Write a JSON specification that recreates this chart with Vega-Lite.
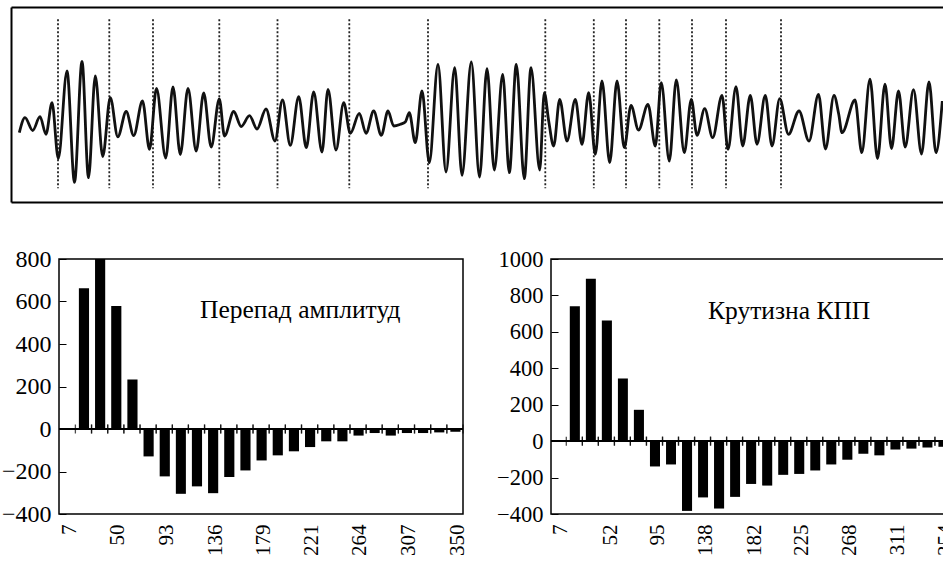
{
  "$schema": "https://vega.github.io/schema/vega-lite/v6.json",
  "background": "white",
  "padding": {"left": 0, "top": 6, "right": 0, "bottom": 0},
  "config": {
    "font": "Liberation Serif",
    "view": {"stroke": "#000", "strokeWidth": 1.5},
    "axis": {"grid": false, "labelFont": "Liberation Serif", "labelColor": "#000", "title": null, "labelOverlap": false, "labelSeparation": 0},
    "axisY": {"labelOverlap": false},
    "style": {"guide-label": {"font": "Liberation Serif"}}
  },
  "datasets": {
    "wave": [
      {"t":17.3,"a":131.7},{"t":23,"a":116.7},{"t":30.7,"a":129.5},{"t":38,"a":115.7},{"t":44,"a":133.3},
      {"t":50,"a":101.7},{"t":56.3,"a":157.5},{"t":65,"a":70},{"t":72.5,"a":181.3},{"t":80,"a":60.5},
      {"t":86.5,"a":176.7},{"t":93.3,"a":75},{"t":100.7,"a":155.5},{"t":108.3,"a":96.7},{"t":115.8,"a":135.8},
      {"t":124.2,"a":110.5},{"t":131.7,"a":134.6},{"t":140.5,"a":100},{"t":147.5,"a":148.3},{"t":154.5,"a":87.5},
      {"t":163.7,"a":157},{"t":171,"a":86},{"t":178.3,"a":153.5},{"t":186,"a":87.5},{"t":194.2,"a":150},
      {"t":201.7,"a":92},{"t":209.2,"a":146},{"t":217.3,"a":98},{"t":222.5,"a":135},{"t":231.7,"a":110.5},
      {"t":239.2,"a":125.5},{"t":247.5,"a":114.7},{"t":255,"a":128},{"t":264,"a":108},{"t":273,"a":140},
      {"t":280.5,"a":99},{"t":288.3,"a":144.3},{"t":296.7,"a":95.7},{"t":304.3,"a":146.7},{"t":311.7,"a":91},
      {"t":320,"a":151},{"t":326,"a":88.3},{"t":334,"a":149},{"t":341.7,"a":101.7},{"t":348.3,"a":132.3},
      {"t":357.3,"a":112.3},{"t":364,"a":132.3},{"t":371.7,"a":110},{"t":379.3,"a":134.3},{"t":386,"a":110},
      {"t":391.7,"a":125},{"t":398.3,"a":123.3},{"t":403.3,"a":121},{"t":407.3,"a":111.7},{"t":413.3,"a":141.7},
      {"t":420,"a":90},{"t":427.3,"a":161.7},{"t":436,"a":63.3},{"t":444,"a":171},{"t":452.7,"a":66.7},
      {"t":460,"a":174.3},{"t":469.3,"a":61},{"t":477.5,"a":176},{"t":485,"a":67.7},{"t":492.3,"a":169},
      {"t":500.7,"a":73.3},{"t":507.3,"a":171.7},{"t":514.3,"a":63.3},{"t":522.3,"a":177.7},{"t":529,"a":66.7},
      {"t":537.7,"a":169},{"t":542.3,"a":91.7},{"t":546.7,"a":120},{"t":551.7,"a":145},{"t":557.7,"a":98.3},
      {"t":565,"a":140},{"t":573.3,"a":98.3},{"t":580,"a":143.3},{"t":586.7,"a":91.7},{"t":593.3,"a":153.3},
      {"t":600,"a":80},{"t":607.7,"a":161.7},{"t":615,"a":80},{"t":622.3,"a":146.7},{"t":629,"a":104.3},
      {"t":636.5,"a":129},{"t":646,"a":103.3},{"t":653.3,"a":145},{"t":659.3,"a":81.7},{"t":667.3,"a":160},
      {"t":674.3,"a":79},{"t":682.3,"a":151.7},{"t":689.3,"a":98.3},{"t":695,"a":134.3},{"t":702.7,"a":107.7},
      {"t":710.7,"a":136.7},{"t":720,"a":94.3},{"t":726,"a":148.3},{"t":734,"a":85.7},{"t":740.7,"a":145},
      {"t":748.3,"a":94.3},{"t":755,"a":143.3},{"t":763.3,"a":94.3},{"t":770,"a":145},{"t":777.7,"a":97.7},
      {"t":786.5,"a":133.3},{"t":797,"a":110},{"t":807,"a":140},{"t":816.5,"a":93.3},{"t":823.5,"a":148},
      {"t":832,"a":94.5},{"t":836.7,"a":113},{"t":840,"a":131.7},{"t":853,"a":99},{"t":859.8,"a":151.7},
      {"t":868,"a":78.2},{"t":875.5,"a":157.5},{"t":883,"a":83.2},{"t":889.5,"a":147.5},{"t":896.5,"a":90},
      {"t":903.2,"a":146},{"t":911.5,"a":88.7},{"t":919.5,"a":153},{"t":927,"a":80.8},{"t":934,"a":151.7},
      {"t":940.3,"a":100}
    ],
    "marks": [
      {"t":56},{"t":107.3},{"t":151},{"t":217.3},{"t":275.5},{"t":347.3},{"t":426},
      {"t":543.3},{"t":591.8},{"t":624},{"t":657.3},{"t":690},{"t":724},{"t":779}
    ],
    "amp": [
      {"lo":7,"hi":21.3,"v":662},{"lo":21.3,"hi":35.6,"v":800},{"lo":35.6,"hi":49.9,"v":579},{"lo":49.9,"hi":64.2,"v":233},
      {"lo":64.2,"hi":78.5,"v":-129},{"lo":78.5,"hi":92.8,"v":-223},{"lo":92.8,"hi":107,"v":-305},{"lo":107,"hi":121.3,"v":-270},
      {"lo":121.3,"hi":135.6,"v":-302},{"lo":135.6,"hi":149.9,"v":-226},{"lo":149.9,"hi":164.2,"v":-195},{"lo":164.2,"hi":178.5,"v":-148},
      {"lo":178.5,"hi":192.8,"v":-124},{"lo":192.8,"hi":207.1,"v":-105},{"lo":207.1,"hi":221.4,"v":-85},{"lo":221.4,"hi":235.7,"v":-58},
      {"lo":235.7,"hi":250,"v":-58},{"lo":250,"hi":264.3,"v":-31},{"lo":264.3,"hi":278.5,"v":-19},{"lo":278.5,"hi":292.8,"v":-31},
      {"lo":292.8,"hi":307.1,"v":-19},{"lo":307.1,"hi":321.4,"v":-19},{"lo":321.4,"hi":335.7,"v":-16},{"lo":335.7,"hi":350,"v":-13}
    ],
    "slope": [
      {"lo":7,"hi":21.5,"v":741},{"lo":21.5,"hi":35.9,"v":891},{"lo":35.9,"hi":50.4,"v":663},{"lo":50.4,"hi":64.8,"v":344},
      {"lo":64.8,"hi":79.3,"v":172},{"lo":79.3,"hi":93.8,"v":-139},{"lo":93.8,"hi":108.2,"v":-128},{"lo":108.2,"hi":122.7,"v":-383},
      {"lo":122.7,"hi":137.1,"v":-309},{"lo":137.1,"hi":151.6,"v":-370},{"lo":151.6,"hi":166,"v":-306},{"lo":166,"hi":180.5,"v":-235},
      {"lo":180.5,"hi":195,"v":-244},{"lo":195,"hi":209.4,"v":-185},{"lo":209.4,"hi":223.9,"v":-180},{"lo":223.9,"hi":238.3,"v":-161},
      {"lo":238.3,"hi":252.8,"v":-128},{"lo":252.8,"hi":267.3,"v":-102},{"lo":267.3,"hi":281.7,"v":-69},{"lo":281.7,"hi":296.2,"v":-78},
      {"lo":296.2,"hi":310.6,"v":-46},{"lo":310.6,"hi":325.1,"v":-41},{"lo":325.1,"hi":339.5,"v":-35},{"lo":339.5,"hi":354,"v":-31}
    ],
    "labels": [
      {"name": "Перепад амплитуд"}
    ],
    "labels2": [
      {"name": "Крутизна КПП"}
    ]
  },
  "vconcat": [
    {
      "width": 888,
      "height": 195,
      "view": {"stroke": null},
      "layer": [
        {
          "data": {"name": "marks"},
          "mark": {"type": "rule", "strokeDash": [2, 2], "strokeWidth": 1.8, "color": "#222"},
          "encoding": {
            "x": {"field": "t", "type": "quantitative", "scale": {"domain": [57, 945], "nice": false, "zero": false}, "axis": null},
            "y": {"datum": 18.3, "type": "quantitative", "scale": {"domain": [6, 201], "reverse": true, "nice": false, "zero": false},
                  "axis": {"orient": "left", "offset": 48, "labels": false, "domain": true, "domainColor": "#000", "domainWidth": 2,
                           "ticks": true, "values": [6, 201], "tickSize": -936, "tickWidth": 2, "tickColor": "#000", "title": null, "grid": false}},
            "y2": {"datum": 187.3}
          }
        },
        {
          "data": {"name": "wave"},
          "mark": {"type": "line", "interpolate": "monotone", "strokeWidth": 2.8, "color": "#111"},
          "encoding": {
            "x": {"field": "t", "type": "quantitative"},
            "y": {"field": "a", "type": "quantitative"}
          }
        }
      ]
    },
    {
      "spacing": 27,
      "hconcat": [
        {
          "width": 404,
          "height": 255,
          "layer": [
            {
              "data": {"name": "amp"},
              "mark": {"type": "bar", "color": "#000", "binSpacing": 6},
              "encoding": {
                "x": {"field": "lo", "type": "quantitative", "bin": "binned",
                      "scale": {"domain": [-7.5, 350], "nice": false, "zero": false},
                      "axis": {"values": [7, 50, 93, 136, 179, 221, 264, 307, 350], "ticks": false, "domain": false,
                               "labelAngle": 270, "labelAlign": "right", "labelBaseline": "alphabetic", "labelFont": "Liberation Serif",
                               "labelPadding": 10, "labelFontSize": 21, "labelFlush": false, "labelOverlap": false, "title": null}},
                "x2": {"field": "hi"},
                "y": {"field": "v", "type": "quantitative",
                      "scale": {"domain": [-400, 800], "nice": false},
                      "axis": {"values": [-400, -200, 0, 200, 400, 600, 800], "domain": false, "tickSize": -7, "labelFont": "Liberation Serif",
                               "tickColor": "#000", "labelPadding": 15, "labelFontSize": 24, "labelOverlap": false, "title": null}}
              }
            },
            {
              "data": {"name": "amp"},
              "mark": {"type": "rule", "strokeWidth": 1.5, "color": "#000"},
              "encoding": {"y": {"datum": 0}}
            },
            {
              "data": {"name": "amp"},
              "mark": {"type": "tick", "orient": "vertical", "size": 9, "thickness": 1.3, "color": "#000"},
              "encoding": {"x": {"field": "lo", "type": "quantitative"}, "y": {"datum": 0}}
            },
            {
              "data": {"name": "amp"},
              "mark": {"type": "tick", "orient": "vertical", "size": 9, "thickness": 1.3, "color": "#000"},
              "encoding": {"x": {"field": "hi", "type": "quantitative"}, "y": {"datum": 0}}
            },
            {
              "data": {"name": "labels"},
              "mark": {"type": "text", "fontSize": 25.5, "font": "Liberation Serif", "align": "center", "baseline": "middle", "color": "#000"},
              "encoding": {"text": {"field": "name"}, "x": {"datum": 206}, "y": {"datum": 560}}
            }
          ]
        },
        {
          "width": 400,
          "height": 255,
          "resolve": {"axis": {"y": "independent"}},
          "layer": [
            {
              "data": {"name": "slope"},
              "mark": {"type": "bar", "color": "#000", "binSpacing": 6},
              "encoding": {
                "x": {"field": "lo", "type": "quantitative", "bin": "binned",
                      "scale": {"domain": [-6.8, 354], "nice": false, "zero": false},
                      "axis": {"values": [7, 52, 95, 138, 182, 225, 268, 311, 354], "ticks": false, "domain": false,
                               "labelAngle": 270, "labelAlign": "right", "labelBaseline": "alphabetic", "labelFont": "Liberation Serif",
                               "labelPadding": 10, "labelFontSize": 21, "labelFlush": false, "labelOverlap": false, "title": null}},
                "x2": {"field": "hi"},
                "y": {"field": "v", "type": "quantitative",
                      "scale": {"domain": [-400, 1000], "nice": false},
                      "axis": {"orient": "left", "values": [-400, 0, 400, 800], "format": "d", "domain": false, "tickSize": -7, "labelFont": "Liberation Serif",
                               "tickColor": "#000", "labelPadding": 15, "labelFontSize": 22.5, "labelOverlap": false, "title": null}}
              }
            },
            {
              "data": {"name": "slope"},
              "mark": {"type": "rule", "strokeWidth": 1.5, "color": "#000"},
              "encoding": {"y": {"datum": 0, "axis": {"orient": "left", "values": [-200, 200, 600, 1000], "format": "d", "domain": false, "tickSize": -7, "labelFont": "Liberation Serif",
                               "tickColor": "#000", "labelPadding": 15, "labelFontSize": 22.5, "labelOverlap": false, "title": null}}}
            },
            {
              "data": {"name": "slope"},
              "mark": {"type": "tick", "orient": "vertical", "size": 9, "thickness": 1.3, "color": "#000"},
              "encoding": {"x": {"field": "lo", "type": "quantitative"}, "y": {"datum": 0, "axis": null}}
            },
            {
              "data": {"name": "slope"},
              "mark": {"type": "tick", "orient": "vertical", "size": 9, "thickness": 1.3, "color": "#000"},
              "encoding": {"x": {"field": "hi", "type": "quantitative"}, "y": {"datum": 0, "axis": null}}
            },
            {
              "data": {"name": "labels2"},
              "mark": {"type": "text", "fontSize": 25.5, "font": "Liberation Serif", "align": "center", "baseline": "middle", "color": "#000"},
              "encoding": {"text": {"field": "name"}, "x": {"datum": 208}, "y": {"datum": 714, "axis": null}}
            }
          ]
        }
      ]
    }
  ],
  "spacing": 43
}
